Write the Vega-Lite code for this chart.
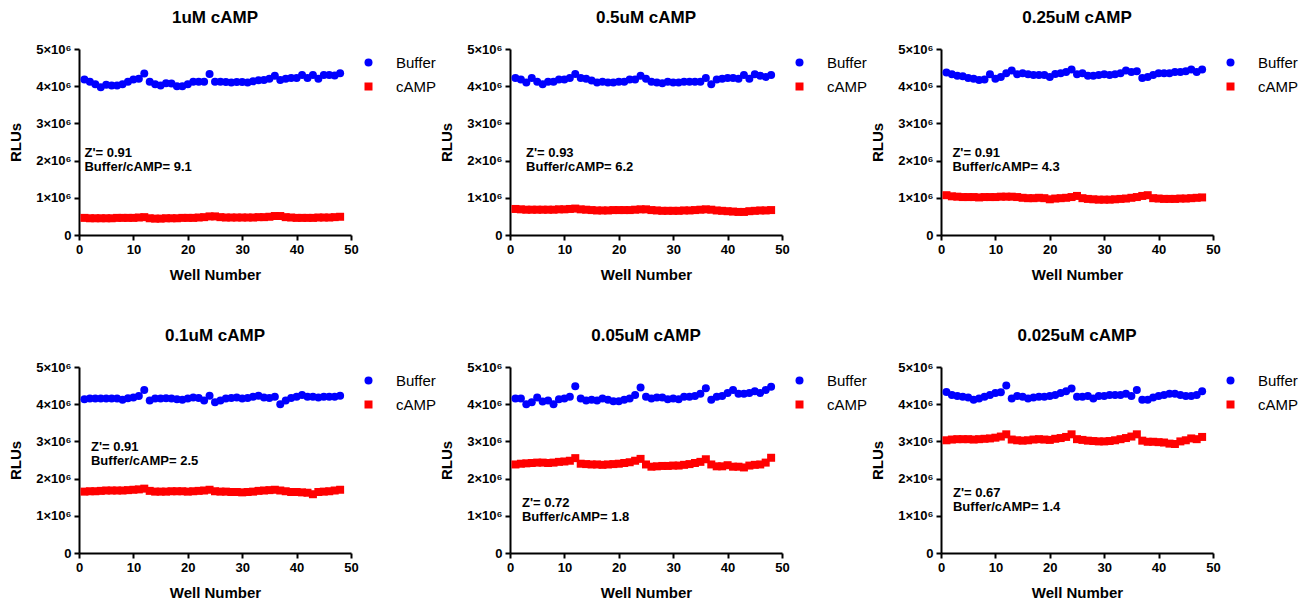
{
  "$schema": "https://vega.github.io/schema/vega-lite/v6.json",
  "background": "white",
  "padding": {"left": 8, "top": 9, "right": 2, "bottom": 2},
  "datasets": {
    "wells": [
      {"c":"1uM","w":1,"Buffer":4180000,"cAMP":460000},{"c":"1uM","w":2,"Buffer":4120000,"cAMP":450000},{"c":"1uM","w":3,"Buffer":4050000,"cAMP":450000},{"c":"1uM","w":4,"Buffer":3970000,"cAMP":450000},{"c":"1uM","w":5,"Buffer":4040000,"cAMP":450000},{"c":"1uM","w":6,"Buffer":4020000,"cAMP":450000},{"c":"1uM","w":7,"Buffer":4020000,"cAMP":460000},{"c":"1uM","w":8,"Buffer":4050000,"cAMP":460000},{"c":"1uM","w":9,"Buffer":4120000,"cAMP":460000},{"c":"1uM","w":10,"Buffer":4180000,"cAMP":460000},{"c":"1uM","w":11,"Buffer":4200000,"cAMP":470000},{"c":"1uM","w":12,"Buffer":4340000,"cAMP":480000},
      {"c":"1uM","w":13,"Buffer":4120000,"cAMP":450000},{"c":"1uM","w":14,"Buffer":4050000,"cAMP":440000},{"c":"1uM","w":15,"Buffer":4020000,"cAMP":440000},{"c":"1uM","w":16,"Buffer":4080000,"cAMP":450000},{"c":"1uM","w":17,"Buffer":4070000,"cAMP":450000},{"c":"1uM","w":18,"Buffer":4000000,"cAMP":450000},{"c":"1uM","w":19,"Buffer":4000000,"cAMP":460000},{"c":"1uM","w":20,"Buffer":4050000,"cAMP":460000},{"c":"1uM","w":21,"Buffer":4120000,"cAMP":460000},{"c":"1uM","w":22,"Buffer":4120000,"cAMP":470000},{"c":"1uM","w":23,"Buffer":4120000,"cAMP":480000},{"c":"1uM","w":24,"Buffer":4330000,"cAMP":500000},
      {"c":"1uM","w":25,"Buffer":4120000,"cAMP":500000},{"c":"1uM","w":26,"Buffer":4120000,"cAMP":480000},{"c":"1uM","w":27,"Buffer":4110000,"cAMP":470000},{"c":"1uM","w":28,"Buffer":4100000,"cAMP":470000},{"c":"1uM","w":29,"Buffer":4110000,"cAMP":470000},{"c":"1uM","w":30,"Buffer":4110000,"cAMP":470000},{"c":"1uM","w":31,"Buffer":4100000,"cAMP":470000},{"c":"1uM","w":32,"Buffer":4130000,"cAMP":470000},{"c":"1uM","w":33,"Buffer":4160000,"cAMP":480000},{"c":"1uM","w":34,"Buffer":4170000,"cAMP":480000},{"c":"1uM","w":35,"Buffer":4200000,"cAMP":490000},{"c":"1uM","w":36,"Buffer":4280000,"cAMP":510000},
      {"c":"1uM","w":37,"Buffer":4170000,"cAMP":510000},{"c":"1uM","w":38,"Buffer":4200000,"cAMP":480000},{"c":"1uM","w":39,"Buffer":4220000,"cAMP":470000},{"c":"1uM","w":40,"Buffer":4220000,"cAMP":460000},{"c":"1uM","w":41,"Buffer":4300000,"cAMP":460000},{"c":"1uM","w":42,"Buffer":4220000,"cAMP":460000},{"c":"1uM","w":43,"Buffer":4300000,"cAMP":460000},{"c":"1uM","w":44,"Buffer":4200000,"cAMP":470000},{"c":"1uM","w":45,"Buffer":4300000,"cAMP":470000},{"c":"1uM","w":46,"Buffer":4300000,"cAMP":470000},{"c":"1uM","w":47,"Buffer":4290000,"cAMP":480000},{"c":"1uM","w":48,"Buffer":4350000,"cAMP":490000},

      {"c":"0.5uM","w":1,"Buffer":4220000,"cAMP":700000},{"c":"0.5uM","w":2,"Buffer":4180000,"cAMP":690000},{"c":"0.5uM","w":3,"Buffer":4100000,"cAMP":680000},{"c":"0.5uM","w":4,"Buffer":4220000,"cAMP":680000},{"c":"0.5uM","w":5,"Buffer":4120000,"cAMP":680000},{"c":"0.5uM","w":6,"Buffer":4050000,"cAMP":680000},{"c":"0.5uM","w":7,"Buffer":4120000,"cAMP":680000},{"c":"0.5uM","w":8,"Buffer":4120000,"cAMP":680000},{"c":"0.5uM","w":9,"Buffer":4180000,"cAMP":690000},{"c":"0.5uM","w":10,"Buffer":4180000,"cAMP":690000},{"c":"0.5uM","w":11,"Buffer":4220000,"cAMP":700000},{"c":"0.5uM","w":12,"Buffer":4330000,"cAMP":710000},
      {"c":"0.5uM","w":13,"Buffer":4220000,"cAMP":690000},{"c":"0.5uM","w":14,"Buffer":4200000,"cAMP":680000},{"c":"0.5uM","w":15,"Buffer":4150000,"cAMP":670000},{"c":"0.5uM","w":16,"Buffer":4100000,"cAMP":660000},{"c":"0.5uM","w":17,"Buffer":4120000,"cAMP":660000},{"c":"0.5uM","w":18,"Buffer":4100000,"cAMP":660000},{"c":"0.5uM","w":19,"Buffer":4100000,"cAMP":670000},{"c":"0.5uM","w":20,"Buffer":4120000,"cAMP":670000},{"c":"0.5uM","w":21,"Buffer":4120000,"cAMP":670000},{"c":"0.5uM","w":22,"Buffer":4180000,"cAMP":670000},{"c":"0.5uM","w":23,"Buffer":4180000,"cAMP":680000},{"c":"0.5uM","w":24,"Buffer":4280000,"cAMP":690000},
      {"c":"0.5uM","w":25,"Buffer":4200000,"cAMP":690000},{"c":"0.5uM","w":26,"Buffer":4120000,"cAMP":670000},{"c":"0.5uM","w":27,"Buffer":4100000,"cAMP":660000},{"c":"0.5uM","w":28,"Buffer":4080000,"cAMP":650000},{"c":"0.5uM","w":29,"Buffer":4120000,"cAMP":650000},{"c":"0.5uM","w":30,"Buffer":4100000,"cAMP":650000},{"c":"0.5uM","w":31,"Buffer":4100000,"cAMP":650000},{"c":"0.5uM","w":32,"Buffer":4120000,"cAMP":660000},{"c":"0.5uM","w":33,"Buffer":4120000,"cAMP":660000},{"c":"0.5uM","w":34,"Buffer":4120000,"cAMP":670000},{"c":"0.5uM","w":35,"Buffer":4120000,"cAMP":680000},{"c":"0.5uM","w":36,"Buffer":4220000,"cAMP":690000},
      {"c":"0.5uM","w":37,"Buffer":4050000,"cAMP":680000},{"c":"0.5uM","w":38,"Buffer":4180000,"cAMP":660000},{"c":"0.5uM","w":39,"Buffer":4200000,"cAMP":650000},{"c":"0.5uM","w":40,"Buffer":4220000,"cAMP":640000},{"c":"0.5uM","w":41,"Buffer":4220000,"cAMP":630000},{"c":"0.5uM","w":42,"Buffer":4200000,"cAMP":620000},{"c":"0.5uM","w":43,"Buffer":4300000,"cAMP":620000},{"c":"0.5uM","w":44,"Buffer":4200000,"cAMP":640000},{"c":"0.5uM","w":45,"Buffer":4320000,"cAMP":650000},{"c":"0.5uM","w":46,"Buffer":4280000,"cAMP":660000},{"c":"0.5uM","w":47,"Buffer":4250000,"cAMP":660000},{"c":"0.5uM","w":48,"Buffer":4300000,"cAMP":670000},

      {"c":"0.25uM","w":1,"Buffer":4370000,"cAMP":1070000},{"c":"0.25uM","w":2,"Buffer":4320000,"cAMP":1040000},{"c":"0.25uM","w":3,"Buffer":4280000,"cAMP":1030000},{"c":"0.25uM","w":4,"Buffer":4270000,"cAMP":1020000},{"c":"0.25uM","w":5,"Buffer":4220000,"cAMP":1020000},{"c":"0.25uM","w":6,"Buffer":4200000,"cAMP":1020000},{"c":"0.25uM","w":7,"Buffer":4170000,"cAMP":1010000},{"c":"0.25uM","w":8,"Buffer":4180000,"cAMP":1020000},{"c":"0.25uM","w":9,"Buffer":4320000,"cAMP":1020000},{"c":"0.25uM","w":10,"Buffer":4200000,"cAMP":1020000},{"c":"0.25uM","w":11,"Buffer":4250000,"cAMP":1030000},{"c":"0.25uM","w":12,"Buffer":4350000,"cAMP":1030000},
      {"c":"0.25uM","w":13,"Buffer":4420000,"cAMP":1030000},{"c":"0.25uM","w":14,"Buffer":4320000,"cAMP":1020000},{"c":"0.25uM","w":15,"Buffer":4350000,"cAMP":1000000},{"c":"0.25uM","w":16,"Buffer":4320000,"cAMP":990000},{"c":"0.25uM","w":17,"Buffer":4300000,"cAMP":990000},{"c":"0.25uM","w":18,"Buffer":4300000,"cAMP":1000000},{"c":"0.25uM","w":19,"Buffer":4300000,"cAMP":990000},{"c":"0.25uM","w":20,"Buffer":4250000,"cAMP":960000},{"c":"0.25uM","w":21,"Buffer":4330000,"cAMP":980000},{"c":"0.25uM","w":22,"Buffer":4350000,"cAMP":990000},{"c":"0.25uM","w":23,"Buffer":4380000,"cAMP":1000000},{"c":"0.25uM","w":24,"Buffer":4450000,"cAMP":1020000},
      {"c":"0.25uM","w":25,"Buffer":4320000,"cAMP":1050000},{"c":"0.25uM","w":26,"Buffer":4350000,"cAMP":990000},{"c":"0.25uM","w":27,"Buffer":4280000,"cAMP":970000},{"c":"0.25uM","w":28,"Buffer":4280000,"cAMP":960000},{"c":"0.25uM","w":29,"Buffer":4300000,"cAMP":950000},{"c":"0.25uM","w":30,"Buffer":4320000,"cAMP":950000},{"c":"0.25uM","w":31,"Buffer":4300000,"cAMP":950000},{"c":"0.25uM","w":32,"Buffer":4320000,"cAMP":960000},{"c":"0.25uM","w":33,"Buffer":4350000,"cAMP":970000},{"c":"0.25uM","w":34,"Buffer":4420000,"cAMP":980000},{"c":"0.25uM","w":35,"Buffer":4380000,"cAMP":1000000},{"c":"0.25uM","w":36,"Buffer":4400000,"cAMP":1020000},
      {"c":"0.25uM","w":37,"Buffer":4220000,"cAMP":1050000},{"c":"0.25uM","w":38,"Buffer":4250000,"cAMP":1070000},{"c":"0.25uM","w":39,"Buffer":4300000,"cAMP":990000},{"c":"0.25uM","w":40,"Buffer":4350000,"cAMP":980000},{"c":"0.25uM","w":41,"Buffer":4350000,"cAMP":970000},{"c":"0.25uM","w":42,"Buffer":4350000,"cAMP":970000},{"c":"0.25uM","w":43,"Buffer":4380000,"cAMP":970000},{"c":"0.25uM","w":44,"Buffer":4380000,"cAMP":980000},{"c":"0.25uM","w":45,"Buffer":4400000,"cAMP":980000},{"c":"0.25uM","w":46,"Buffer":4450000,"cAMP":990000},{"c":"0.25uM","w":47,"Buffer":4380000,"cAMP":1000000},{"c":"0.25uM","w":48,"Buffer":4450000,"cAMP":1010000},

      {"c":"0.1uM","w":1,"Buffer":4130000,"cAMP":1650000},{"c":"0.1uM","w":2,"Buffer":4150000,"cAMP":1660000},{"c":"0.1uM","w":3,"Buffer":4150000,"cAMP":1660000},{"c":"0.1uM","w":4,"Buffer":4150000,"cAMP":1670000},{"c":"0.1uM","w":5,"Buffer":4150000,"cAMP":1680000},{"c":"0.1uM","w":6,"Buffer":4150000,"cAMP":1680000},{"c":"0.1uM","w":7,"Buffer":4150000,"cAMP":1680000},{"c":"0.1uM","w":8,"Buffer":4120000,"cAMP":1680000},{"c":"0.1uM","w":9,"Buffer":4160000,"cAMP":1690000},{"c":"0.1uM","w":10,"Buffer":4180000,"cAMP":1700000},{"c":"0.1uM","w":11,"Buffer":4220000,"cAMP":1710000},{"c":"0.1uM","w":12,"Buffer":4380000,"cAMP":1730000},
      {"c":"0.1uM","w":13,"Buffer":4100000,"cAMP":1670000},{"c":"0.1uM","w":14,"Buffer":4150000,"cAMP":1650000},{"c":"0.1uM","w":15,"Buffer":4150000,"cAMP":1650000},{"c":"0.1uM","w":16,"Buffer":4160000,"cAMP":1650000},{"c":"0.1uM","w":17,"Buffer":4150000,"cAMP":1660000},{"c":"0.1uM","w":18,"Buffer":4130000,"cAMP":1660000},{"c":"0.1uM","w":19,"Buffer":4120000,"cAMP":1660000},{"c":"0.1uM","w":20,"Buffer":4150000,"cAMP":1650000},{"c":"0.1uM","w":21,"Buffer":4180000,"cAMP":1660000},{"c":"0.1uM","w":22,"Buffer":4170000,"cAMP":1670000},{"c":"0.1uM","w":23,"Buffer":4100000,"cAMP":1680000},{"c":"0.1uM","w":24,"Buffer":4230000,"cAMP":1700000},
      {"c":"0.1uM","w":25,"Buffer":4050000,"cAMP":1660000},{"c":"0.1uM","w":26,"Buffer":4100000,"cAMP":1650000},{"c":"0.1uM","w":27,"Buffer":4150000,"cAMP":1650000},{"c":"0.1uM","w":28,"Buffer":4170000,"cAMP":1640000},{"c":"0.1uM","w":29,"Buffer":4180000,"cAMP":1640000},{"c":"0.1uM","w":30,"Buffer":4150000,"cAMP":1630000},{"c":"0.1uM","w":31,"Buffer":4170000,"cAMP":1640000},{"c":"0.1uM","w":32,"Buffer":4200000,"cAMP":1650000},{"c":"0.1uM","w":33,"Buffer":4230000,"cAMP":1670000},{"c":"0.1uM","w":34,"Buffer":4180000,"cAMP":1680000},{"c":"0.1uM","w":35,"Buffer":4170000,"cAMP":1690000},{"c":"0.1uM","w":36,"Buffer":4200000,"cAMP":1700000},
      {"c":"0.1uM","w":37,"Buffer":4000000,"cAMP":1680000},{"c":"0.1uM","w":38,"Buffer":4100000,"cAMP":1660000},{"c":"0.1uM","w":39,"Buffer":4170000,"cAMP":1640000},{"c":"0.1uM","w":40,"Buffer":4200000,"cAMP":1640000},{"c":"0.1uM","w":41,"Buffer":4250000,"cAMP":1630000},{"c":"0.1uM","w":42,"Buffer":4200000,"cAMP":1620000},{"c":"0.1uM","w":43,"Buffer":4200000,"cAMP":1580000},{"c":"0.1uM","w":44,"Buffer":4180000,"cAMP":1640000},{"c":"0.1uM","w":45,"Buffer":4200000,"cAMP":1650000},{"c":"0.1uM","w":46,"Buffer":4200000,"cAMP":1660000},{"c":"0.1uM","w":47,"Buffer":4200000,"cAMP":1680000},{"c":"0.1uM","w":48,"Buffer":4230000,"cAMP":1700000},

      {"c":"0.05uM","w":1,"Buffer":4150000,"cAMP":2380000},{"c":"0.05uM","w":2,"Buffer":4150000,"cAMP":2400000},{"c":"0.05uM","w":3,"Buffer":4000000,"cAMP":2410000},{"c":"0.05uM","w":4,"Buffer":4050000,"cAMP":2420000},{"c":"0.05uM","w":5,"Buffer":4180000,"cAMP":2430000},{"c":"0.05uM","w":6,"Buffer":4070000,"cAMP":2430000},{"c":"0.05uM","w":7,"Buffer":4100000,"cAMP":2420000},{"c":"0.05uM","w":8,"Buffer":4000000,"cAMP":2430000},{"c":"0.05uM","w":9,"Buffer":4130000,"cAMP":2450000},{"c":"0.05uM","w":10,"Buffer":4150000,"cAMP":2460000},{"c":"0.05uM","w":11,"Buffer":4200000,"cAMP":2480000},{"c":"0.05uM","w":12,"Buffer":4480000,"cAMP":2550000},
      {"c":"0.05uM","w":13,"Buffer":4150000,"cAMP":2400000},{"c":"0.05uM","w":14,"Buffer":4100000,"cAMP":2390000},{"c":"0.05uM","w":15,"Buffer":4120000,"cAMP":2380000},{"c":"0.05uM","w":16,"Buffer":4100000,"cAMP":2380000},{"c":"0.05uM","w":17,"Buffer":4150000,"cAMP":2370000},{"c":"0.05uM","w":18,"Buffer":4120000,"cAMP":2380000},{"c":"0.05uM","w":19,"Buffer":4080000,"cAMP":2390000},{"c":"0.05uM","w":20,"Buffer":4080000,"cAMP":2400000},{"c":"0.05uM","w":21,"Buffer":4120000,"cAMP":2420000},{"c":"0.05uM","w":22,"Buffer":4150000,"cAMP":2440000},{"c":"0.05uM","w":23,"Buffer":4250000,"cAMP":2480000},{"c":"0.05uM","w":24,"Buffer":4450000,"cAMP":2530000},
      {"c":"0.05uM","w":25,"Buffer":4200000,"cAMP":2380000},{"c":"0.05uM","w":26,"Buffer":4150000,"cAMP":2320000},{"c":"0.05uM","w":27,"Buffer":4180000,"cAMP":2330000},{"c":"0.05uM","w":28,"Buffer":4180000,"cAMP":2340000},{"c":"0.05uM","w":29,"Buffer":4130000,"cAMP":2340000},{"c":"0.05uM","w":30,"Buffer":4150000,"cAMP":2350000},{"c":"0.05uM","w":31,"Buffer":4130000,"cAMP":2350000},{"c":"0.05uM","w":32,"Buffer":4200000,"cAMP":2370000},{"c":"0.05uM","w":33,"Buffer":4200000,"cAMP":2390000},{"c":"0.05uM","w":34,"Buffer":4220000,"cAMP":2420000},{"c":"0.05uM","w":35,"Buffer":4280000,"cAMP":2450000},{"c":"0.05uM","w":36,"Buffer":4430000,"cAMP":2520000},
      {"c":"0.05uM","w":37,"Buffer":4120000,"cAMP":2380000},{"c":"0.05uM","w":38,"Buffer":4200000,"cAMP":2330000},{"c":"0.05uM","w":39,"Buffer":4220000,"cAMP":2330000},{"c":"0.05uM","w":40,"Buffer":4300000,"cAMP":2360000},{"c":"0.05uM","w":41,"Buffer":4380000,"cAMP":2320000},{"c":"0.05uM","w":42,"Buffer":4280000,"cAMP":2320000},{"c":"0.05uM","w":43,"Buffer":4280000,"cAMP":2300000},{"c":"0.05uM","w":44,"Buffer":4300000,"cAMP":2350000},{"c":"0.05uM","w":45,"Buffer":4350000,"cAMP":2370000},{"c":"0.05uM","w":46,"Buffer":4300000,"cAMP":2380000},{"c":"0.05uM","w":47,"Buffer":4380000,"cAMP":2430000},{"c":"0.05uM","w":48,"Buffer":4470000,"cAMP":2560000},

      {"c":"0.025uM","w":1,"Buffer":4330000,"cAMP":3030000},{"c":"0.025uM","w":2,"Buffer":4250000,"cAMP":3050000},{"c":"0.025uM","w":3,"Buffer":4220000,"cAMP":3060000},{"c":"0.025uM","w":4,"Buffer":4200000,"cAMP":3060000},{"c":"0.025uM","w":5,"Buffer":4180000,"cAMP":3060000},{"c":"0.025uM","w":6,"Buffer":4120000,"cAMP":3050000},{"c":"0.025uM","w":7,"Buffer":4150000,"cAMP":3060000},{"c":"0.025uM","w":8,"Buffer":4200000,"cAMP":3070000},{"c":"0.025uM","w":9,"Buffer":4250000,"cAMP":3080000},{"c":"0.025uM","w":10,"Buffer":4300000,"cAMP":3100000},{"c":"0.025uM","w":11,"Buffer":4320000,"cAMP":3130000},{"c":"0.025uM","w":12,"Buffer":4500000,"cAMP":3190000},
      {"c":"0.025uM","w":13,"Buffer":4150000,"cAMP":3050000},{"c":"0.025uM","w":14,"Buffer":4220000,"cAMP":3030000},{"c":"0.025uM","w":15,"Buffer":4200000,"cAMP":3020000},{"c":"0.025uM","w":16,"Buffer":4150000,"cAMP":3030000},{"c":"0.025uM","w":17,"Buffer":4180000,"cAMP":3050000},{"c":"0.025uM","w":18,"Buffer":4200000,"cAMP":3060000},{"c":"0.025uM","w":19,"Buffer":4200000,"cAMP":3050000},{"c":"0.025uM","w":20,"Buffer":4220000,"cAMP":3040000},{"c":"0.025uM","w":21,"Buffer":4250000,"cAMP":3070000},{"c":"0.025uM","w":22,"Buffer":4300000,"cAMP":3090000},{"c":"0.025uM","w":23,"Buffer":4350000,"cAMP":3120000},{"c":"0.025uM","w":24,"Buffer":4420000,"cAMP":3190000},
      {"c":"0.025uM","w":25,"Buffer":4200000,"cAMP":3060000},{"c":"0.025uM","w":26,"Buffer":4200000,"cAMP":3040000},{"c":"0.025uM","w":27,"Buffer":4220000,"cAMP":3020000},{"c":"0.025uM","w":28,"Buffer":4150000,"cAMP":3010000},{"c":"0.025uM","w":29,"Buffer":4220000,"cAMP":3000000},{"c":"0.025uM","w":30,"Buffer":4220000,"cAMP":3000000},{"c":"0.025uM","w":31,"Buffer":4250000,"cAMP":3010000},{"c":"0.025uM","w":32,"Buffer":4250000,"cAMP":3030000},{"c":"0.025uM","w":33,"Buffer":4250000,"cAMP":3060000},{"c":"0.025uM","w":34,"Buffer":4280000,"cAMP":3090000},{"c":"0.025uM","w":35,"Buffer":4220000,"cAMP":3130000},{"c":"0.025uM","w":36,"Buffer":4380000,"cAMP":3190000},
      {"c":"0.025uM","w":37,"Buffer":4120000,"cAMP":3020000},{"c":"0.025uM","w":38,"Buffer":4120000,"cAMP":2990000},{"c":"0.025uM","w":39,"Buffer":4180000,"cAMP":2990000},{"c":"0.025uM","w":40,"Buffer":4220000,"cAMP":2980000},{"c":"0.025uM","w":41,"Buffer":4250000,"cAMP":2970000},{"c":"0.025uM","w":42,"Buffer":4280000,"cAMP":2940000},{"c":"0.025uM","w":43,"Buffer":4280000,"cAMP":2930000},{"c":"0.025uM","w":44,"Buffer":4250000,"cAMP":3000000},{"c":"0.025uM","w":45,"Buffer":4220000,"cAMP":3030000},{"c":"0.025uM","w":46,"Buffer":4220000,"cAMP":3080000},{"c":"0.025uM","w":47,"Buffer":4250000,"cAMP":3060000},{"c":"0.025uM","w":48,"Buffer":4350000,"cAMP":3120000}
    ],
    "notes": [
      {"c":"1uM","t":["Z'= 0.91","Buffer/cAMP= 9.1"]},
      {"c":"0.5uM","t":["Z'= 0.93","Buffer/cAMP= 6.2"]},
      {"c":"0.25uM","t":["Z'= 0.91","Buffer/cAMP= 4.3"]},
      {"c":"0.1uM","t":["Z'= 0.91","Buffer/cAMP= 2.5"]},
      {"c":"0.05uM","t":["Z'= 0.72","Buffer/cAMP= 1.8"]},
      {"c":"0.025uM","t":["Z'= 0.67","Buffer/cAMP= 1.4"]}
    ]
  },
  "columns": 3,
  "spacing": {"row": 45, "column": -4},
  "resolve": {"scale": {"color": "independent", "shape": "independent"}},
  "concat": [
    {
      "title": "1uM cAMP", "width": 272, "height": 186,
      "layer": [
        {"data": {"name": "wells"}, "transform": [{"filter": "datum.c == '1uM'"}, {"fold": ["Buffer", "cAMP"], "as": ["s", "v"]}],
         "mark": {"type": "point", "filled": true, "opacity": 1, "size": 64},
         "encoding": {
           "x": {"field": "w", "type": "quantitative", "scale": {"domain": [0, 50]}, "axis": {"values": [0,10,20,30,40,50], "title": "Well Number"}},
           "y": {"field": "v", "type": "quantitative", "scale": {"domain": [0, 5000000]}, "axis": {"values": [0,1000000,2000000,3000000,4000000,5000000], "labelExpr": "datum.value == 0 ? '0' : (datum.value/1000000) + '×10⁶'", "title": "RLUs"}},
           "color": {"field": "s", "type": "nominal", "scale": {"domain": ["Buffer", "cAMP"], "range": ["#0000FF", "#FF0000"]}, "legend": {"title": null}},
           "shape": {"field": "s", "type": "nominal", "scale": {"domain": ["Buffer", "cAMP"], "range": ["circle", "square"]}, "legend": {"title": null}}
         }},
        {"data": {"name": "notes"}, "transform": [{"filter": "datum.c == '1uM'"}],
         "mark": {"type": "text", "align": "left", "baseline": "top", "fontWeight": "bold", "fontSize": 13, "lineHeight": 14, "color": "black"},
         "encoding": {"x": {"datum": 1.0, "type": "quantitative", "axis": {"values": [0,10,20,30,40,50], "title": "Well Number"}}, "y": {"datum": 2370000, "type": "quantitative", "axis": {"values": [0,1000000,2000000,3000000,4000000,5000000], "labelExpr": "datum.value == 0 ? '0' : (datum.value/1000000) + '×10⁶'", "title": "RLUs"}}, "text": {"field": "t"}}}
      ]
    },
    {
      "title": "0.5uM cAMP", "width": 272, "height": 186,
      "layer": [
        {"data": {"name": "wells"}, "transform": [{"filter": "datum.c == '0.5uM'"}, {"fold": ["Buffer", "cAMP"], "as": ["s", "v"]}],
         "mark": {"type": "point", "filled": true, "opacity": 1, "size": 64},
         "encoding": {
           "x": {"field": "w", "type": "quantitative", "scale": {"domain": [0, 50]}, "axis": {"values": [0,10,20,30,40,50], "title": "Well Number"}},
           "y": {"field": "v", "type": "quantitative", "scale": {"domain": [0, 5000000]}, "axis": {"values": [0,1000000,2000000,3000000,4000000,5000000], "labelExpr": "datum.value == 0 ? '0' : (datum.value/1000000) + '×10⁶'", "title": "RLUs"}},
           "color": {"field": "s", "type": "nominal", "scale": {"domain": ["Buffer", "cAMP"], "range": ["#0000FF", "#FF0000"]}, "legend": {"title": null}},
           "shape": {"field": "s", "type": "nominal", "scale": {"domain": ["Buffer", "cAMP"], "range": ["circle", "square"]}, "legend": {"title": null}}
         }},
        {"data": {"name": "notes"}, "transform": [{"filter": "datum.c == '0.5uM'"}],
         "mark": {"type": "text", "align": "left", "baseline": "top", "fontWeight": "bold", "fontSize": 13, "lineHeight": 14, "color": "black"},
         "encoding": {"x": {"datum": 2.95, "type": "quantitative", "axis": {"values": [0,10,20,30,40,50], "title": "Well Number"}}, "y": {"datum": 2370000, "type": "quantitative", "axis": {"values": [0,1000000,2000000,3000000,4000000,5000000], "labelExpr": "datum.value == 0 ? '0' : (datum.value/1000000) + '×10⁶'", "title": "RLUs"}}, "text": {"field": "t"}}}
      ]
    },
    {
      "title": "0.25uM cAMP", "width": 272, "height": 186,
      "layer": [
        {"data": {"name": "wells"}, "transform": [{"filter": "datum.c == '0.25uM'"}, {"fold": ["Buffer", "cAMP"], "as": ["s", "v"]}],
         "mark": {"type": "point", "filled": true, "opacity": 1, "size": 64},
         "encoding": {
           "x": {"field": "w", "type": "quantitative", "scale": {"domain": [0, 50]}, "axis": {"values": [0,10,20,30,40,50], "title": "Well Number"}},
           "y": {"field": "v", "type": "quantitative", "scale": {"domain": [0, 5000000]}, "axis": {"values": [0,1000000,2000000,3000000,4000000,5000000], "labelExpr": "datum.value == 0 ? '0' : (datum.value/1000000) + '×10⁶'", "title": "RLUs"}},
           "color": {"field": "s", "type": "nominal", "scale": {"domain": ["Buffer", "cAMP"], "range": ["#0000FF", "#FF0000"]}, "legend": {"title": null}},
           "shape": {"field": "s", "type": "nominal", "scale": {"domain": ["Buffer", "cAMP"], "range": ["circle", "square"]}, "legend": {"title": null}}
         }},
        {"data": {"name": "notes"}, "transform": [{"filter": "datum.c == '0.25uM'"}],
         "mark": {"type": "text", "align": "left", "baseline": "top", "fontWeight": "bold", "fontSize": 13, "lineHeight": 14, "color": "black"},
         "encoding": {"x": {"datum": 2.1, "type": "quantitative", "axis": {"values": [0,10,20,30,40,50], "title": "Well Number"}}, "y": {"datum": 2370000, "type": "quantitative", "axis": {"values": [0,1000000,2000000,3000000,4000000,5000000], "labelExpr": "datum.value == 0 ? '0' : (datum.value/1000000) + '×10⁶'", "title": "RLUs"}}, "text": {"field": "t"}}}
      ]
    },
    {
      "title": "0.1uM cAMP", "width": 272, "height": 186,
      "layer": [
        {"data": {"name": "wells"}, "transform": [{"filter": "datum.c == '0.1uM'"}, {"fold": ["Buffer", "cAMP"], "as": ["s", "v"]}],
         "mark": {"type": "point", "filled": true, "opacity": 1, "size": 64},
         "encoding": {
           "x": {"field": "w", "type": "quantitative", "scale": {"domain": [0, 50]}, "axis": {"values": [0,10,20,30,40,50], "title": "Well Number"}},
           "y": {"field": "v", "type": "quantitative", "scale": {"domain": [0, 5000000]}, "axis": {"values": [0,1000000,2000000,3000000,4000000,5000000], "labelExpr": "datum.value == 0 ? '0' : (datum.value/1000000) + '×10⁶'", "title": "RLUs"}},
           "color": {"field": "s", "type": "nominal", "scale": {"domain": ["Buffer", "cAMP"], "range": ["#0000FF", "#FF0000"]}, "legend": {"title": null}},
           "shape": {"field": "s", "type": "nominal", "scale": {"domain": ["Buffer", "cAMP"], "range": ["circle", "square"]}, "legend": {"title": null}}
         }},
        {"data": {"name": "notes"}, "transform": [{"filter": "datum.c == '0.1uM'"}],
         "mark": {"type": "text", "align": "left", "baseline": "top", "fontWeight": "bold", "fontSize": 13, "lineHeight": 14, "color": "black"},
         "encoding": {"x": {"datum": 2.2, "type": "quantitative", "axis": {"values": [0,10,20,30,40,50], "title": "Well Number"}}, "y": {"datum": 3020000, "type": "quantitative", "axis": {"values": [0,1000000,2000000,3000000,4000000,5000000], "labelExpr": "datum.value == 0 ? '0' : (datum.value/1000000) + '×10⁶'", "title": "RLUs"}}, "text": {"field": "t"}}}
      ]
    },
    {
      "title": "0.05uM cAMP", "width": 272, "height": 186,
      "layer": [
        {"data": {"name": "wells"}, "transform": [{"filter": "datum.c == '0.05uM'"}, {"fold": ["Buffer", "cAMP"], "as": ["s", "v"]}],
         "mark": {"type": "point", "filled": true, "opacity": 1, "size": 64},
         "encoding": {
           "x": {"field": "w", "type": "quantitative", "scale": {"domain": [0, 50]}, "axis": {"values": [0,10,20,30,40,50], "title": "Well Number"}},
           "y": {"field": "v", "type": "quantitative", "scale": {"domain": [0, 5000000]}, "axis": {"values": [0,1000000,2000000,3000000,4000000,5000000], "labelExpr": "datum.value == 0 ? '0' : (datum.value/1000000) + '×10⁶'", "title": "RLUs"}},
           "color": {"field": "s", "type": "nominal", "scale": {"domain": ["Buffer", "cAMP"], "range": ["#0000FF", "#FF0000"]}, "legend": {"title": null}},
           "shape": {"field": "s", "type": "nominal", "scale": {"domain": ["Buffer", "cAMP"], "range": ["circle", "square"]}, "legend": {"title": null}}
         }},
        {"data": {"name": "notes"}, "transform": [{"filter": "datum.c == '0.05uM'"}],
         "mark": {"type": "text", "align": "left", "baseline": "top", "fontWeight": "bold", "fontSize": 13, "lineHeight": 14, "color": "black"},
         "encoding": {"x": {"datum": 2.2, "type": "quantitative", "axis": {"values": [0,10,20,30,40,50], "title": "Well Number"}}, "y": {"datum": 1500000, "type": "quantitative", "axis": {"values": [0,1000000,2000000,3000000,4000000,5000000], "labelExpr": "datum.value == 0 ? '0' : (datum.value/1000000) + '×10⁶'", "title": "RLUs"}}, "text": {"field": "t"}}}
      ]
    },
    {
      "title": "0.025uM cAMP", "width": 272, "height": 186,
      "layer": [
        {"data": {"name": "wells"}, "transform": [{"filter": "datum.c == '0.025uM'"}, {"fold": ["Buffer", "cAMP"], "as": ["s", "v"]}],
         "mark": {"type": "point", "filled": true, "opacity": 1, "size": 64},
         "encoding": {
           "x": {"field": "w", "type": "quantitative", "scale": {"domain": [0, 50]}, "axis": {"values": [0,10,20,30,40,50], "title": "Well Number"}},
           "y": {"field": "v", "type": "quantitative", "scale": {"domain": [0, 5000000]}, "axis": {"values": [0,1000000,2000000,3000000,4000000,5000000], "labelExpr": "datum.value == 0 ? '0' : (datum.value/1000000) + '×10⁶'", "title": "RLUs"}},
           "color": {"field": "s", "type": "nominal", "scale": {"domain": ["Buffer", "cAMP"], "range": ["#0000FF", "#FF0000"]}, "legend": {"title": null}},
           "shape": {"field": "s", "type": "nominal", "scale": {"domain": ["Buffer", "cAMP"], "range": ["circle", "square"]}, "legend": {"title": null}}
         }},
        {"data": {"name": "notes"}, "transform": [{"filter": "datum.c == '0.025uM'"}],
         "mark": {"type": "text", "align": "left", "baseline": "top", "fontWeight": "bold", "fontSize": 13, "lineHeight": 14, "color": "black"},
         "encoding": {"x": {"datum": 2.2, "type": "quantitative", "axis": {"values": [0,10,20,30,40,50], "title": "Well Number"}}, "y": {"datum": 1770000, "type": "quantitative", "axis": {"values": [0,1000000,2000000,3000000,4000000,5000000], "labelExpr": "datum.value == 0 ? '0' : (datum.value/1000000) + '×10⁶'", "title": "RLUs"}}, "text": {"field": "t"}}}
      ]
    }
  ],
  "config": {
    "font": "Liberation Sans",
    "view": {"stroke": null},
    "axis": {"domainColor": "black", "domainWidth": 2, "tickColor": "black", "tickWidth": 2, "tickSize": 5, "labelFontSize": 13, "labelFontWeight": "bold", "labelColor": "black", "labelPadding": 3, "labelOverlap": false, "titleFontSize": 15, "titleFontWeight": "bold", "titleColor": "black", "grid": false, "labelFont": "Liberation Sans", "titleFont": "Liberation Sans"},
    "axisX": {"titlePadding": 11, "labelFlush": false},
    "axisY": {"titlePadding": 12, "labelFlush": false},
    "title": {"fontSize": 17, "fontWeight": "bold", "color": "black", "frame": "group", "anchor": "middle", "offset": 16, "font": "Liberation Sans"},
    "legend": {"labelFontSize": 15, "labelColor": "black", "labelFont": "Liberation Sans", "symbolSize": 64, "offset": 4, "labelOffset": 20, "rowPadding": 8, "symbolStrokeWidth": 0, "padding": 6}
  }
}
